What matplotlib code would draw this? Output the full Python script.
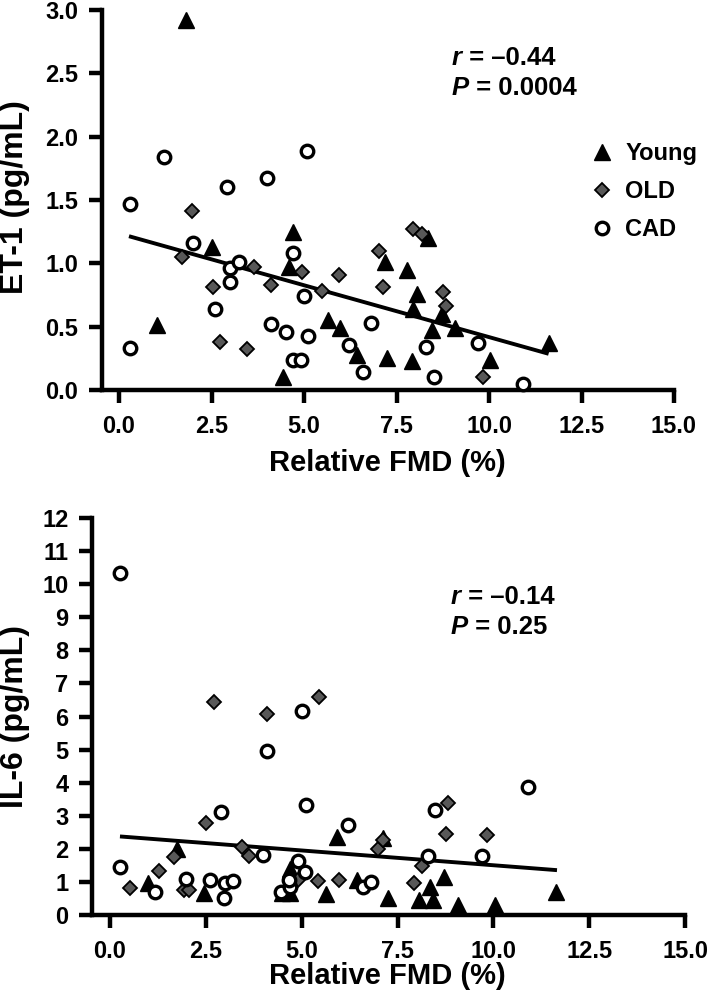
import numpy as np
import matplotlib
matplotlib.use("Agg")
import matplotlib.pyplot as plt

plt.rcParams['font.family'] = ['Liberation Sans', 'DejaVu Sans']
plt.rcParams['font.weight'] = 'bold'

# ET-1 panel (top)
et1_young_x = [1.80, 1.02, 2.50, 4.71, 4.60, 4.44, 5.66, 5.97, 6.42, 7.20, 7.25, 7.78, 8.05,
               7.95, 7.91, 8.45, 8.36, 8.72, 9.08, 10.03, 11.63]
et1_young_y = [2.92, 0.51, 1.13, 1.25, 0.97, 0.105, 0.55, 0.49, 0.28, 1.01, 0.25, 0.95, 0.76,
               0.64, 0.23, 0.47, 1.20, 0.60, 0.49, 0.24, 0.37]
et1_old_x = [1.96, 1.69, 2.55, 2.73, 3.45, 3.66, 4.10, 4.94, 5.48, 5.95, 7.04, 7.13, 7.94,
             8.18, 8.77, 8.84, 9.85]
et1_old_y = [1.41, 1.05, 0.81, 0.38, 0.32, 0.97, 0.83, 0.93, 0.78, 0.91, 1.10, 0.81, 1.27,
             1.23, 0.77, 0.66, 0.105]
et1_cad_x = [0.30, 0.30, 1.22, 2.01, 2.60, 3.00, 3.24, 3.00, 2.91, 4.01, 4.10, 4.51, 4.71,
             4.91, 4.71, 5.01, 5.12, 5.07, 6.21, 6.60, 6.80, 8.31, 8.50, 9.71, 10.91]
et1_cad_y = [1.47, 0.33, 1.84, 1.16, 0.64, 0.96, 1.01, 0.85, 1.60, 1.67, 0.52, 0.455, 0.24,
             0.24, 1.08, 0.74, 0.43, 1.89, 0.355, 0.145, 0.53, 0.34, 0.105, 0.37, 0.05]
et1_fit_x = [0.32, 11.56]
et1_fit_y = [1.21, 0.29]

# IL-6 panel (bottom)
il6_young_x = [1.00, 1.74, 2.45, 4.70, 4.48, 4.70, 5.63, 5.91, 6.44, 7.26, 7.12, 8.07, 8.35,
               8.43, 8.72, 9.07, 10.04, 11.63]
il6_young_y = [0.96, 1.98, 0.67, 1.38, 0.66, 0.66, 0.63, 2.37, 1.06, 0.50, 2.33, 0.45, 0.86,
               0.45, 1.14, 0.30, 0.30, 0.70]
il6_old_x = [0.52, 1.28, 1.67, 1.93, 2.06, 2.50, 2.70, 3.44, 3.63, 4.10, 5.46, 5.43, 5.97,
             7.00, 7.11, 4.90, 8.83, 8.76, 9.83, 8.13, 7.94]
il6_old_y = [0.81, 1.34, 1.76, 0.76, 0.76, 2.77, 6.44, 2.06, 1.78, 6.09, 6.58, 1.03, 1.06,
             1.98, 2.27, 1.06, 3.40, 2.45, 2.42, 1.48, 0.96]
il6_cad_x = [0.26, 0.26, 1.17, 1.98, 2.61, 2.90, 3.00, 3.22, 2.98, 4.00, 4.09, 4.46, 4.70,
             4.68, 4.90, 5.09, 5.00, 5.11, 6.20, 6.61, 6.80, 8.48, 8.30, 9.70, 10.91]
il6_cad_y = [10.35, 1.44, 0.69, 1.09, 1.06, 3.12, 0.96, 1.04, 0.50, 1.81, 4.96, 0.70, 0.86,
             1.05, 1.64, 1.31, 6.17, 3.32, 2.72, 0.84, 1.01, 3.17, 1.78, 1.78, 3.86]
il6_fit_x = [0.31, 11.61]
il6_fit_y = [2.37, 1.36]

x_ticks = [0.0, 2.5, 5.0, 7.5, 10.0, 12.5, 15.0]
et1_ticks = [0.0, 0.5, 1.0, 1.5, 2.0, 2.5, 3.0]
il6_ticks = list(range(0, 13))

young_style = dict(marker='^', ms=11, mfc='black', mec='black', mew=1, ls='none')
old_style = dict(marker='D', ms=7.5, mfc='#585858', mec='black', mew=1.3, ls='none')
cad_style = dict(marker='o', ms=9, mfc='white', mec='black', mew=2.4, ls='none')

W, H = 709, 998
fig = plt.figure(figsize=(W / 100, H / 100), dpi=100)


def style_axis(ax, xlim, ylim, yticks, ylabels):
    for s in ['top', 'right']:
        ax.spines[s].set_visible(False)
    for s in ['left', 'bottom']:
        ax.spines[s].set_linewidth(3.2)
    ax.set_xlim(*xlim)
    ax.set_ylim(*ylim)
    ax.set_xticks(x_ticks)
    ax.set_xticklabels(['%.1f' % t for t in x_ticks])
    ax.set_yticks(yticks)
    ax.set_yticklabels(ylabels)
    ax.tick_params(axis='both', direction='out', length=9.5, width=3.2, labelsize=17)
    ax.tick_params(axis='x', pad=8.5)
    ax.tick_params(axis='y', pad=7.5)


def draw_group(ax, young, old, cad, fit):
    ax.plot(young[0], young[1], label='Young', clip_on=False, zorder=4, **young_style)
    ax.plot(old[0], old[1], label='OLD', clip_on=False, zorder=4, **old_style)
    ax.plot(cad[0], cad[1], label='CAD', clip_on=False, zorder=4, **cad_style)
    ax.plot(fit[0], fit[1], color='black', lw=2.8, zorder=3)


# top axes
ax1 = fig.add_axes([102 / W, 1 - 390 / H, (674 - 102) / W, (390 - 10) / H])
style_axis(ax1, (-0.46, 15), (0, 3), et1_ticks, ['%.1f' % t for t in et1_ticks])
draw_group(ax1, (et1_young_x, et1_young_y), (et1_old_x, et1_old_y),
           (et1_cad_x, et1_cad_y), (et1_fit_x, et1_fit_y))
ax1.legend(loc='upper left', bbox_to_anchor=(0.855, 0.652), frameon=False, fontsize=17,
           handlelength=0.95, handletextpad=0.5, labelspacing=0.64, borderpad=0,
           borderaxespad=0, numpoints=1)

# bottom axes
ax2 = fig.add_axes([92 / W, 1 - 915 / H, (685 - 92) / W, (915 - 518) / H])
style_axis(ax2, (-0.47, 15), (0, 12), il6_ticks, [str(t) for t in il6_ticks])
draw_group(ax2, (il6_young_x, il6_young_y), (il6_old_x, il6_old_y),
           (il6_cad_x, il6_cad_y), (il6_fit_x, il6_fit_y))

# axis labels
fig.text(15 / W, 1 - 197 / H, 'ET-1 (pg/mL)', rotation=90, ha='center', va='center', fontsize=23)
fig.text(15 / W, 1 - 717 / H, 'IL-6 (pg/mL)', rotation=90, ha='center', va='center', fontsize=23)
fig.text(387 / W, 1 - 463 / H, 'Relative FMD (%)', ha='center', va='center', fontsize=21)
fig.text(387 / W, 1 - 976 / H, 'Relative FMD (%)', ha='center', va='center', fontsize=21)

# r / P annotations: italic letter followed by bold value
for (x0, y0, rv, pv, ax) in [(452, 58, ' = \u20130.44', ' = 0.0004', ax1),
                             (451, 597, ' = \u20130.14', ' = 0.25', ax2)]:
    for i, (letter, rest) in enumerate([('r', rv), ('P', pv)]):
        t = fig.text(x0 / W, 1 - (y0 + i * 30) / H, letter, fontsize=18.5,
                     fontstyle='italic', fontweight='bold', va='center', ha='left')
        ax.annotate(rest, xy=(1, 0.5), xycoords=t, fontsize=18.5, fontweight='bold',
                    va='center', ha='left', annotation_clip=False)

fig.savefig('out.png', dpi=100)
